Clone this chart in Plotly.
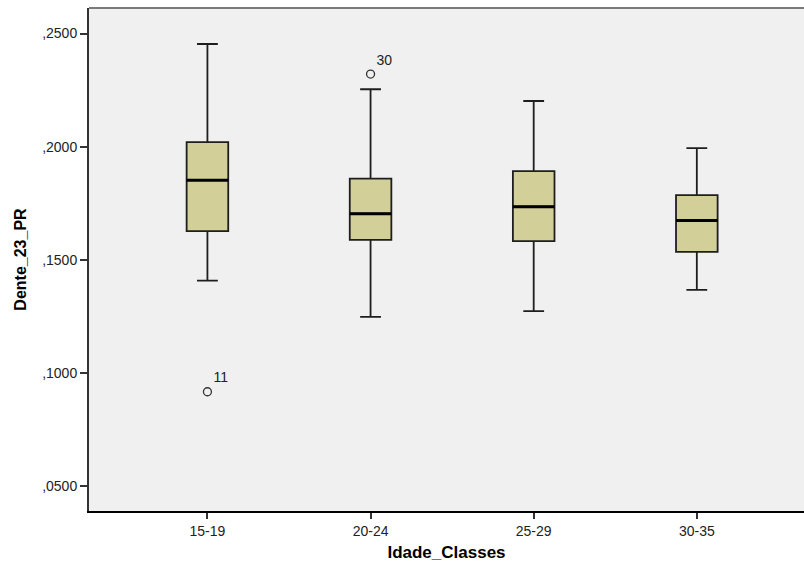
import plotly.graph_objects as go

categories = ["15-19", "20-24", "25-29", "30-35"]
lower_whisker = [0.1408, 0.1248, 0.1273, 0.1367]
q1_values = [0.1627, 0.1588, 0.1583, 0.1535]
median_values = [0.1852, 0.1704, 0.1735, 0.1674]
q3_values = [0.2020, 0.1859, 0.1892, 0.1786]
upper_whisker = [0.2454, 0.2254, 0.2202, 0.1994]

outlier_cats = ["15-19", "20-24"]
outlier_values = [0.0917, 0.2321]
outlier_labels = ["11", "30"]

ytick_vals = [0.05, 0.10, 0.15, 0.20, 0.25]
ytick_text = [",0500", ",1000", ",1500", ",2000", ",2500"]

BOX_W = 0.255

fig = go.Figure()
fig.add_trace(go.Box(
    x=categories,
    q1=q1_values, median=median_values, q3=q3_values,
    lowerfence=lower_whisker, upperfence=upper_whisker,
    fillcolor="#d3cf98",
    line=dict(color="#1e1e1e", width=1.8),
    width=BOX_W, whiskerwidth=0.5,
    boxpoints=False, showlegend=False, hoverinfo="skip",
))
fig.add_trace(go.Scatter(
    x=outlier_cats, y=outlier_values, mode="markers+text",
    text=outlier_labels, textposition="top right",
    textfont=dict(family="Liberation Sans, Arial", size=14, color="#222"),
    marker=dict(symbol="circle-open", size=8, color="#333", line=dict(width=1.3)),
    showlegend=False, hoverinfo="skip",
))

# thick median lines
for i, m in enumerate(median_values):
    fig.add_shape(type="line", xref="x", yref="y",
                  x0=i - BOX_W / 2, x1=i + BOX_W / 2, y0=m, y1=m,
                  line=dict(color="black", width=3))

# gray top border
fig.add_shape(type="line", xref="paper", yref="paper", x0=0, x1=1, y0=1, y1=1,
              line=dict(color="#7a7a7a", width=2))

fig.update_layout(
    width=804, height=566,
    margin=dict(l=89, r=0, t=8, b=55),
    paper_bgcolor="white", plot_bgcolor="#f0f0f0",
    font=dict(family="Liberation Sans, Arial", size=14, color="#222"),
)
fig.update_xaxes(
    type="category", categoryorder="array", categoryarray=categories,
    range=[-0.726, 3.657],
    showgrid=False, zeroline=False,
    showline=True, linecolor="black", linewidth=2,
    ticks="outside", ticklen=6, tickwidth=1.5, tickcolor="#333",
    tickfont=dict(size=14, color="#222"),
    title=dict(text="<b>Idade_Classes</b>", font=dict(size=17, color="black"), standoff=8),
)
fig.update_yaxes(
    range=[0.0390, 0.2613],
    tickvals=ytick_vals, ticktext=ytick_text,
    showgrid=False, zeroline=False,
    showline=True, linecolor="#333", linewidth=2,
    ticks="outside", ticklen=7, tickwidth=1.5, tickcolor="#333",
    tickfont=dict(size=14, color="#222"),
    title=dict(text="<b>Dente_23_PR</b>", font=dict(size=16, color="black"), standoff=12),
)

fig.write_html("out.html")
